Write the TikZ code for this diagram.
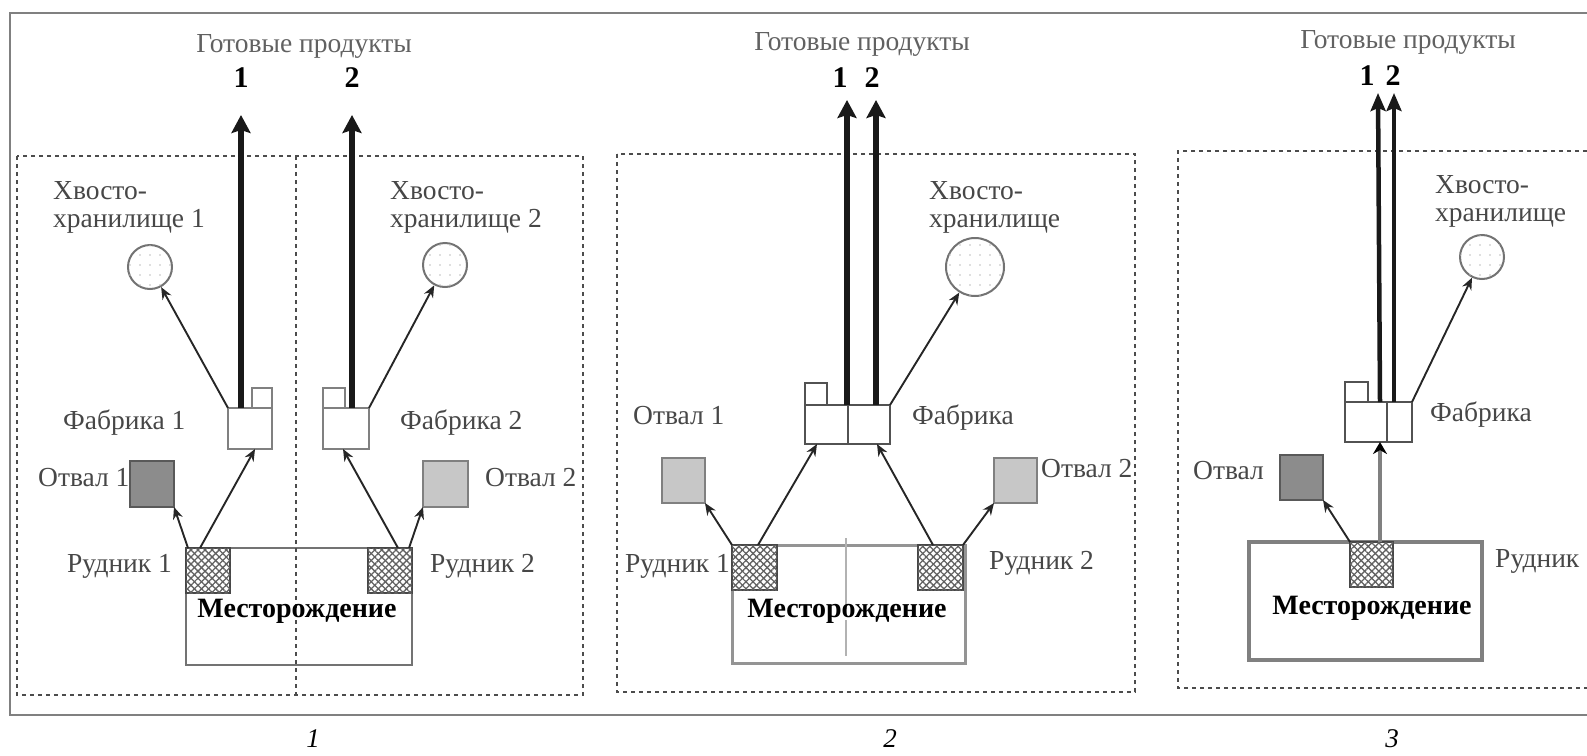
\documentclass[tikz,border=0pt]{standalone}
\usepackage{fontspec}
\setmainfont{Liberation Serif}
\usetikzlibrary{arrows.meta,patterns.meta,fit,calc}
\newcommand\labfont{\fontsize{27.5}{28}\selectfont}
\newcommand\numfont{\fontsize{30}{30}\selectfont\bfseries}
\tikzset{
  lab/.style={font=\labfont, text=black!72, inner sep=0pt, text height=0.7em, text depth=0.2em, yshift=-6.5pt},
  hvost/.style={font=\labfont, text=black!72, inner sep=0pt, align=left, anchor=west, yshift=-3pt},
  titl/.style={font=\labfont, text=black!62, inner sep=0pt, yshift=-2pt},
  numlab/.style={font=\numfont, text=black, inner sep=0pt},
  panlab/.style={font=\fontsize{27}{27}\selectfont\itshape, text=black, inner sep=0pt, anchor=base},
  mtext/.style={font=\fontsize{28}{28}\selectfont\bfseries, text=black, fill=white, inner sep=1pt, text height=0.7em, text depth=0.2em, yshift=-6.5pt},
  box/.style={inner sep=0pt, outer sep=0pt},
  fab/.style={box, draw=black!50, line width=2pt, fill=white},
  fabd/.style={box, draw=black!68, line width=2pt, fill=white},
  otvdark/.style={box, draw=black!65, fill=black!45, line width=2pt},
  otvlight/.style={box, draw=black!50, fill=black!22, line width=2pt},
  rud/.style={box, draw=black!72, line width=1.6pt, fill=white,
    postaction={pattern={Lines[angle=45,distance=5pt,line width=1.3pt]}, pattern color=black!62},
    postaction={pattern={Lines[angle=-45,distance=5pt,line width=1.3pt]}, pattern color=black!62}},
  mest/.style={box, draw=black!55, line width=2.5pt, fill=white},
  circ/.style={circle, draw=black!55, line width=2pt, fill=white, inner sep=0pt, minimum size=44pt,
    postaction={pattern={Dots[distance=10pt,radius=0.9pt]}, pattern color=black!25}},
  thinarr/.style={draw=black!85, line width=1.9pt, -{Stealth[length=12pt,width=10pt]}},
  prod/.style={draw=black!90, line width=5.5pt, -{Stealth[length=18pt,width=19pt,inset=3pt]}},
  dbox/.style={draw=black!70, line width=2.3pt, dash pattern=on 4pt off 4pt},
}
\begin{document}
\begin{tikzpicture}[x=1pt,y=-1pt]
\useasboundingbox (0,0) rectangle (1587,755);
% outer frame (open to the right)
\draw[black!50, line width=2pt] (1587,13) -- (10,13) -- (10,715) -- (1587,715);

% ================= PANEL 1 =================
\draw[dbox] (17,156) rectangle (583,695);
\node[titl] (p1title) at (304,44) {Готовые продукты};
\node[numlab] (p1n1) at (241,78) {1};
\node[numlab] (p1n2) at (352,78) {2};
\node[hvost] (p1h1) at (53,204) {Хвосто-\\хранилище 1};
\node[hvost] (p1h2) at (390,204) {Хвосто-\\хранилище 2};
\node[circ] (p1t1) at (150,267) {};
\node[circ] (p1t2) at (445,265) {};
\node[mest, fit={(186,548) (412,665)}] (p1m) {};
\draw[dbox] (296,156) -- (296,695);
\node[mtext] (p1mt) at (297,608) {Месторождение};
\node[rud, fit={(186,548) (230,593)}] (p1r1) {};
\node[rud, fit={(368,548) (412,593)}] (p1r2) {};
\node[fab, fit={(252,388) (272,408)}] (p1f1s) {};
\node[fab, fit={(228,408) (272,449)}] (p1f1) {};
\node[fab, fit={(323,388) (345,408)}] (p1f2s) {};
\node[fab, fit={(323,408) (369,449)}] (p1f2) {};
\node[otvdark, fit={(130,461) (174,507)}] (p1o1) {};
\node[otvlight, fit={(423,461) (468,507)}] (p1o2) {};
\node[lab, anchor=west] (p1lf1) at (63,420) {Фабрика 1};
\node[lab, anchor=west] (p1lf2) at (400,420) {Фабрика 2};
\node[lab, anchor=west] (p1lo1) at (38,477) {Отвал 1};
\node[lab, anchor=west] (p1lo2) at (485,477) {Отвал 2};
\node[lab, anchor=west] (p1lr1) at (67,563) {Рудник 1};
\node[lab, anchor=west] (p1lr2) at (430,563) {Рудник 2};
\coordinate (p1e1) at (241,115);
\coordinate (p1e2) at (352,115);
\draw[prod] ([xshift=13pt]p1f1.north west) -- (p1e1);
\draw[prod] ([xshift=29pt]p1f2.north west) -- (p1e2);
\draw[thinarr] (p1f1.north west) -- (p1t1);
\draw[thinarr] (p1f2.north east) -- (p1t2);
\draw[thinarr] ([xshift=2pt]p1r1.north west) -- (p1o1.south east);
\draw[thinarr] ([xshift=14pt]p1r1.north west) -- ([xshift=27pt]p1f1.south west);
\draw[thinarr] ([xshift=30pt]p1r2.north west) -- ([xshift=20pt]p1f2.south west);
\draw[thinarr] ([xshift=-3pt]p1r2.north east) -- (p1o2.south west);
\node[panlab] (p1lab) at (313,747) {1};

% ================= PANEL 2 =================
\draw[dbox] (617,154) rectangle (1135,692);
\node[titl] (p2title) at (862,42) {Готовые продукты};
\node[numlab] (p2n1) at (840,78) {1};
\node[numlab] (p2n2) at (872,78) {2};
\node[hvost] (p2h) at (929,204) {Хвосто-\\хранилище};
\node[circ, minimum size=58pt] (p2t) at (975,267) {};
\node[mest, draw=black!42, line width=3pt, fit={(732,545) (965,663)}] (p2m) {};
\draw[black!30, line width=2pt] (846,538) -- (846,656);
\node[mtext] (p2mt) at (847,608) {Месторождение};
\node[rud, fit={(732,545) (777,590)}] (p2r1) {};
\node[rud, fit={(918,545) (963,590)}] (p2r2) {};
\node[fabd, fit={(805,383) (827,405)}] (p2fs) {};
\node[fabd, fit={(805,405) (890,444)}] (p2f) {};
\draw[black!68, line width=2pt] (p2f.north) -- (p2f.south);
\node[otvlight, fit={(662,458) (705,503)}] (p2o1) {};
\node[otvlight, fit={(994,458) (1037,503)}] (p2o2) {};
\node[lab, anchor=west] (p2lo1) at (633,415) {Отвал 1};
\node[lab, anchor=west] (p2lf) at (912,415) {Фабрика};
\node[lab, anchor=west] (p2lo2) at (1041,468) {Отвал 2};
\node[lab, anchor=west] (p2lr1) at (625,563) {Рудник 1};
\node[lab, anchor=west] (p2lr2) at (989,560) {Рудник 2};
\coordinate (p2e1) at (847,100);
\coordinate (p2e2) at (876,100);
\draw[prod] ([xshift=42pt]p2f.north west) -- (p2e1);
\draw[prod] ([xshift=71pt]p2f.north west) -- (p2e2);
\draw[thinarr] (p2f.north east) -- (p2t);
\draw[thinarr] (p2r1.north west) -- (p2o1.south east);
\draw[thinarr] ([xshift=26pt]p2r1.north west) -- ([xshift=12pt]p2f.south west);
\draw[thinarr] ([xshift=15pt]p2r2.north west) -- ([xshift=72pt]p2f.south west);
\draw[thinarr] (p2r2.north east) -- (p2o2.south west);
\node[panlab] (p2lab) at (890,747) {2};

% ================= PANEL 3 =================
\draw[dbox] (1587,151) -- (1178,151) -- (1178,688) -- (1587,688);
\node[titl] (p3title) at (1408,40) {Готовые продукты};
\node[numlab] (p3n1) at (1367,76) {1};
\node[numlab] (p3n2) at (1393,76) {2};
\node[hvost] (p3h) at (1435,198) {Хвосто-\\хранилище};
\node[circ] (p3t) at (1482,257) {};
\node[mest, draw=black!50, line width=3.5pt, fit={(1249,542) (1482,660)}] (p3m) {};
\node[mtext] (p3mt) at (1372,605) {Месторождение};
\node[rud, fit={(1350,542) (1393,587)}] (p3r) {};
\node[fabd, fit={(1345,382) (1368,402)}] (p3fs) {};
\node[fabd, fit={(1345,402) (1412,442)}] (p3f) {};
\draw[black!68, line width=2pt] ([xshift=42pt]p3f.north west) -- ([xshift=42pt]p3f.south west);
\node[otvdark, fit={(1280,455) (1323,500)}] (p3o) {};
\node[lab, anchor=west] (p3lf) at (1430,412) {Фабрика};
\node[lab, anchor=west] (p3lo) at (1193,470) {Отвал};
\node[lab, anchor=west] (p3lr) at (1495,558) {Рудник};
\coordinate (p3e1) at (1378,93);
\coordinate (p3e2) at (1394,93);
\draw[prod, line width=4.5pt, -{Stealth[length=18pt,width=15pt,inset=3pt]}] ([xshift=35pt]p3f.north west) -- (p3e1);
\draw[prod, line width=4.5pt, -{Stealth[length=18pt,width=15pt,inset=3pt]}] ([xshift=49pt]p3f.north west) -- (p3e2);
\draw[thinarr] (p3f.north east) -- (p3t);
\draw[thinarr] (p3r.north west) -- (p3o.south east);
\draw[black!50, line width=4pt, -{Stealth[length=12pt,width=14pt,color=black]}] ([xshift=30pt]p3r.north west) -- ([xshift=35pt]p3f.south west);
\node[panlab] (p3lab) at (1392,747) {3};
\end{tikzpicture}
\end{document}
